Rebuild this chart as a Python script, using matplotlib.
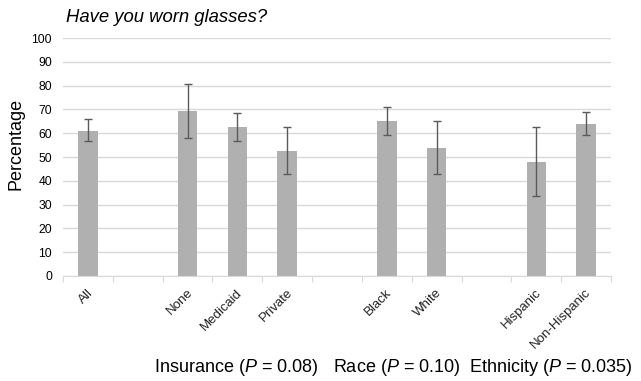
import numpy as np
import matplotlib.pyplot as plt

plt.rcParams["font.family"] = ["Liberation Sans", "DejaVu Sans"]
plt.rcParams["mathtext.fontset"] = "custom"
plt.rcParams["mathtext.rm"] = "Liberation Sans"
plt.rcParams["mathtext.it"] = "Liberation Sans:italic"

# Data
categories = ["All", "", "None", "Medicaid", "Private", "",
              "Black", "White", "", "Hispanic", "Non-Hispanic"]
values = [61.0, np.nan, 69.3, 62.7, 52.5, np.nan,
          65.0, 53.9, np.nan, 48.0, 64.0]
err_low = [56.6, np.nan, 58.0, 56.9, 42.9, np.nan,
           59.2, 42.7, np.nan, 33.6, 59.1]
err_high = [66.0, np.nan, 80.8, 68.6, 62.6, np.nan,
            70.9, 65.1, np.nan, 62.5, 68.8]
group_labels = ["Insurance", "Race", "Ethnicity"]
p_values = ["0.08", "0.10", "0.035"]

vals = np.array(values)
lo = vals - np.array(err_low)
hi = np.array(err_high) - vals
x = np.arange(len(categories))

fig = plt.figure(figsize=(6.41, 3.81), dpi=100)
ax = fig.add_axes([63 / 641, 1 - 276 / 381, 548 / 641, 238 / 381])

ax.bar(x, vals, width=0.39, color="#b0b0b0", zorder=2)
ax.errorbar(x, vals, yerr=[lo, hi], fmt="none", ecolor="#5a5a5a",
            elinewidth=1.0, capsize=3, capthick=1.0, zorder=3)

ax.set_xlim(-0.5, len(categories) - 0.5)
ax.set_ylim(0, 100)
ax.set_yticks(np.arange(0, 101, 10))
ax.yaxis.grid(True, color="#d9d9d9", linewidth=1.0, zorder=0)
ax.set_axisbelow(True)

for s in ["top", "right", "left"]:
    ax.spines[s].set_visible(False)
ax.spines["bottom"].set_color("#d9d9d9")
ax.tick_params(axis="y", length=0, labelsize=8.7, pad=8)

# category labels between boundary ticks
ax.set_xticks(np.arange(-0.5, len(categories), 1.0))
ax.set_xticklabels([])
ax.tick_params(axis="x", length=4, color="#d9d9d9", direction="out")
for xi, lab in zip(x, categories):
    if lab:
        ax.text(xi - 0.02, -4.5, lab, rotation=45, ha="right", va="top",
                rotation_mode="anchor", fontsize=9.5, color="#222222")

fig.text(16 / 641, 1 - 144 / 381, "Percentage", fontsize=13,
         rotation=90, va="center", ha="center")
fig.text(66 / 641, 1 - 17 / 381, "Have you worn glasses?", fontsize=13.3,
         style="italic", va="center", ha="left")

group_x = [236, 397, 551]
for gx, g, p in zip(group_x, group_labels, p_values):
    fig.text(gx / 641, 1 - 367 / 381, g + r" ($\it{P}$ = " + p + ")",
             fontsize=13, va="center", ha="center")

fig.savefig("out.png", dpi=100)
